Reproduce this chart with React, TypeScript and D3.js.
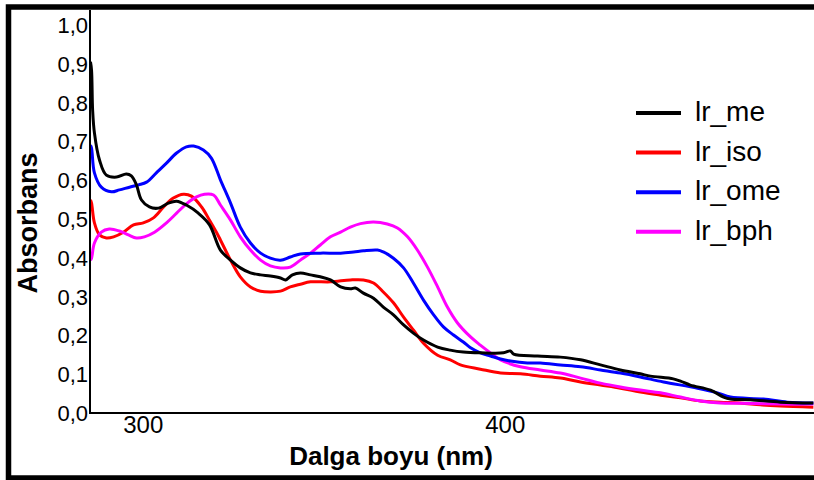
import { useRef, useEffect } from 'react';
import * as d3 from 'd3';

// wavelength (nm), absorbance
const meWl = [285.4, 285.7, 286.0, 286.5, 287.9, 289.8, 292.6, 295.3, 296.7, 298.1, 299.5, 301.7, 304.2, 306.9, 309.2, 311.9, 315.2, 318.3, 321.3, 324.1, 326.8, 329.6, 332.4, 335.1, 337.9, 339.3, 341.2, 343.4, 346.2, 348.9, 351.7, 354.5, 357.2, 358.6, 360.8, 363.6, 366.3, 369.1, 371.9, 374.6, 377.4, 381.3, 384.8, 388.4, 393.1, 399.5, 401.4, 402.3, 408.9, 415.2, 420.8, 426.3, 431.8, 437.3, 440.1, 446.4, 448.4, 451.1, 456.7, 460.3, 462.2, 467.7, 476.0, 485.1];
const meAbs = [0.905, 0.884, 0.781, 0.722, 0.652, 0.613, 0.608, 0.616, 0.611, 0.588, 0.549, 0.531, 0.528, 0.541, 0.546, 0.536, 0.515, 0.485, 0.420, 0.394, 0.374, 0.361, 0.356, 0.353, 0.348, 0.343, 0.356, 0.361, 0.356, 0.351, 0.343, 0.325, 0.320, 0.322, 0.309, 0.296, 0.273, 0.253, 0.227, 0.206, 0.188, 0.170, 0.162, 0.157, 0.155, 0.155, 0.160, 0.152, 0.147, 0.144, 0.137, 0.124, 0.111, 0.101, 0.095, 0.088, 0.082, 0.072, 0.059, 0.041, 0.036, 0.034, 0.028, 0.026];

const isoWl = [285.4, 285.7, 286.5, 287.9, 289.8, 291.8, 294.5, 297.3, 300.0, 302.8, 305.6, 308.3, 311.1, 313.3, 316.1, 318.3, 320.2, 321.3, 324.1, 326.8, 329.6, 332.4, 335.1, 337.9, 340.6, 343.4, 346.2, 351.7, 357.2, 360.8, 363.6, 366.3, 369.1, 371.9, 374.6, 377.4, 381.3, 384.8, 387.6, 393.1, 398.7, 404.2, 409.7, 415.2, 420.8, 426.3, 431.8, 437.3, 442.9, 448.4, 453.9, 459.4, 464.9, 470.5, 476.0, 485.1];
const isoAbs = [0.549, 0.541, 0.490, 0.459, 0.451, 0.454, 0.466, 0.485, 0.490, 0.503, 0.531, 0.554, 0.564, 0.559, 0.531, 0.497, 0.466, 0.446, 0.394, 0.351, 0.325, 0.314, 0.312, 0.314, 0.325, 0.332, 0.338, 0.338, 0.343, 0.343, 0.335, 0.312, 0.284, 0.247, 0.214, 0.180, 0.149, 0.137, 0.124, 0.113, 0.103, 0.101, 0.095, 0.090, 0.080, 0.072, 0.064, 0.054, 0.046, 0.039, 0.031, 0.028, 0.026, 0.021, 0.018, 0.015];

const omeWl = [285.4, 285.7, 286.5, 288.4, 291.2, 293.4, 296.2, 298.7, 300.9, 303.6, 306.4, 309.2, 311.9, 313.9, 316.6, 318.8, 321.3, 324.1, 326.8, 329.6, 332.4, 335.1, 337.9, 340.6, 343.4, 348.9, 354.5, 358.1, 360.8, 364.7, 366.3, 369.1, 371.9, 374.6, 377.4, 380.2, 382.9, 385.7, 388.4, 390.4, 393.1, 395.9, 398.7, 401.4, 406.1, 409.7, 415.2, 420.8, 426.3, 431.8, 437.3, 443.7, 453.1, 458.6, 462.2, 471.3, 477.9, 485.1];
const omeAbs = [0.690, 0.683, 0.619, 0.582, 0.570, 0.575, 0.582, 0.588, 0.595, 0.619, 0.644, 0.670, 0.686, 0.688, 0.678, 0.657, 0.601, 0.541, 0.479, 0.438, 0.412, 0.399, 0.394, 0.402, 0.410, 0.412, 0.412, 0.415, 0.418, 0.420, 0.415, 0.399, 0.374, 0.335, 0.291, 0.253, 0.222, 0.201, 0.183, 0.168, 0.155, 0.147, 0.139, 0.134, 0.129, 0.129, 0.124, 0.119, 0.111, 0.103, 0.093, 0.080, 0.064, 0.052, 0.041, 0.036, 0.028, 0.026];

const bphWl = [285.4, 285.7, 286.5, 288.4, 290.6, 293.4, 295.9, 298.1, 300.3, 303.1, 306.4, 309.2, 311.9, 314.7, 316.9, 319.4, 321.3, 324.1, 326.8, 329.6, 332.4, 335.1, 337.9, 340.6, 343.4, 346.2, 348.9, 351.7, 354.5, 357.2, 360.0, 363.6, 367.4, 370.2, 373.0, 375.7, 378.5, 381.3, 384.0, 386.8, 390.4, 393.1, 395.9, 398.7, 404.2, 409.7, 415.2, 420.8, 426.3, 431.8, 437.3, 442.9, 448.4, 453.9, 459.4, 464.9, 476.0, 485.1];
const bphAbs = [0.394, 0.399, 0.438, 0.466, 0.474, 0.469, 0.459, 0.451, 0.454, 0.466, 0.490, 0.515, 0.539, 0.557, 0.564, 0.562, 0.536, 0.497, 0.454, 0.420, 0.394, 0.379, 0.374, 0.376, 0.394, 0.412, 0.433, 0.454, 0.466, 0.479, 0.488, 0.492, 0.487, 0.477, 0.454, 0.420, 0.376, 0.325, 0.273, 0.232, 0.196, 0.175, 0.155, 0.137, 0.119, 0.111, 0.103, 0.090, 0.077, 0.067, 0.059, 0.052, 0.041, 0.031, 0.026, 0.025, 0.023, 0.023];

const seriesNames = ['lr_me', 'lr_iso', 'lr_ome', 'lr_bph'];
const seriesColors = ['#000000', '#ff0000', '#0000ff', '#ff00ff'];
const yTicks = [0, 0.1, 0.2, 0.3, 0.4, 0.5, 0.6, 0.7, 0.8, 0.9, 1.0];
const xTicks = [300, 400];

const App = () => {
  const svgRef = useRef<SVGSVGElement>(null);

  useEffect(() => {
    const svg = d3.select(svgRef.current);
    svg.selectAll('*').remove();
    const width = 814, height = 480;
    const left = 90, top = 25, bottom = 413;

    const x = d3.scaleLinear().domain([285, 485]).range([89, 813]);
    const y = d3.scaleLinear().domain([0, 1]).range([bottom, top]);

    svg.append('rect').attr('width', width).attr('height', height).attr('fill', '#fff');

    svg.append('defs').append('clipPath').attr('id', 'plot-clip')
      .append('rect').attr('x', left).attr('y', 10).attr('width', width - left).attr('height', bottom - 10);

    const all = [
      meWl.map((w, i) => [w, meAbs[i]]),
      isoWl.map((w, i) => [w, isoAbs[i]]),
      omeWl.map((w, i) => [w, omeAbs[i]]),
      bphWl.map((w, i) => [w, bphAbs[i]]),
    ];

    const line = d3.line<number[]>()
      .x(d => x(d[0]))
      .y(d => y(d[1]))
      .curve(d3.curveCatmullRom.alpha(0.5));

    const plot = svg.append('g').attr('clip-path', 'url(#plot-clip)');
    // draw order: red and magenta first, black on top
    [1, 3, 2, 0].forEach(k => {
      plot.append('path')
        .datum(all[k])
        .attr('fill', 'none')
        .attr('stroke', seriesColors[k])
        .attr('stroke-width', 3)
        .attr('stroke-linejoin', 'round')
        .attr('d', line);
    });

    // axes
    svg.append('line').attr('x1', left).attr('x2', left).attr('y1', 10).attr('y2', bottom + 1)
      .attr('stroke', '#000').attr('stroke-width', 2);
    svg.append('line').attr('x1', left - 1).attr('x2', width).attr('y1', bottom).attr('y2', bottom)
      .attr('stroke', '#000').attr('stroke-width', 2);

    const fmt = (v: number) => v.toFixed(1).replace('.', ',');
    svg.append('g').selectAll('text').data(yTicks).join('text')
      .attr('x', left - 2).attr('y', d => y(d)).attr('dy', '0.36em')
      .attr('text-anchor', 'end')
      .style('font-family', 'Arial, "Liberation Sans", sans-serif').style('font-size', '22px')
      .attr('fill', '#000').text(fmt);

    svg.append('g').selectAll('text').data(xTicks).join('text')
      .attr('x', d => x(d)).attr('y', 433)
      .attr('text-anchor', 'middle')
      .style('font-family', 'Arial, "Liberation Sans", sans-serif').style('font-size', '24px')
      .attr('fill', '#000').text(d => String(d));

    svg.append('text').attr('x', 391).attr('y', 465).attr('text-anchor', 'middle')
      .style('font-family', 'Arial, "Liberation Sans", sans-serif').style('font-size', '26px')
      .style('font-weight', 'bold').text('Dalga boyu (nm)');

    svg.append('text').attr('transform', 'translate(37,223) rotate(-90)').attr('text-anchor', 'middle')
      .style('font-family', 'Arial, "Liberation Sans", sans-serif').style('font-size', '27px')
      .style('font-weight', 'bold').text('Absorbans');

    // legend
    const legend = svg.append('g').selectAll('g').data(seriesNames).join('g')
      .attr('transform', (_, i) => `translate(636,${113 + i * 39.6})`);
    legend.append('line').attr('x1', 0).attr('x2', 45).attr('y1', 0).attr('y2', 0)
      .attr('stroke', (_, i) => seriesColors[i]).attr('stroke-width', 4);
    legend.append('text').attr('x', 59).attr('y', 8)
      .style('font-family', 'Arial, "Liberation Sans", sans-serif').style('font-size', '28px')
      .attr('fill', '#000').text(d => d);

    // outer frame (right side runs off the picture)
    svg.append('rect').attr('x', 8.5).attr('y', 7).attr('width', 900).attr('height', 471)
      .attr('fill', 'none').attr('stroke', '#000').attr('stroke-width', 5.5);
  }, []);

  return (
    <svg ref={svgRef} width={814} height={480}
      style={{ position: 'absolute', left: 0, top: 0, display: 'block' }} />
  );
};

export default App;
